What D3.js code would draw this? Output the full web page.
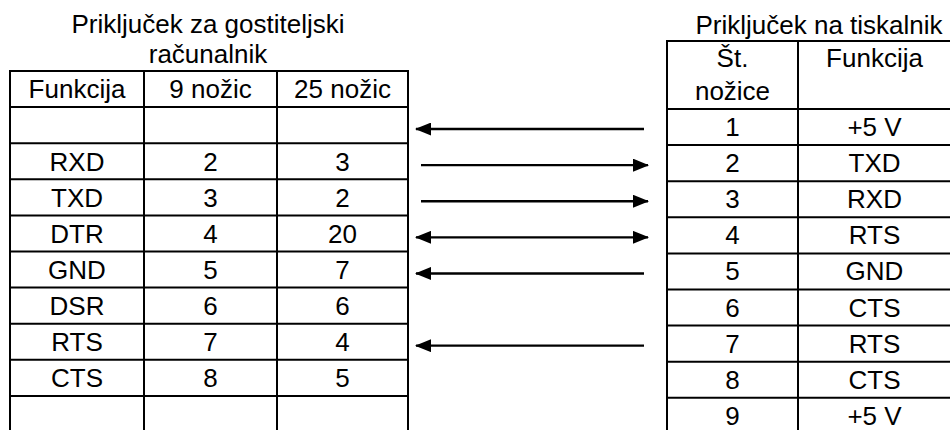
<!DOCTYPE html>
<html>
<head>
<meta charset="utf-8">
<script src="https://cdn.jsdelivr.net/npm/d3@7"></script>
<style>
  html, body { margin: 0; padding: 0; background: #fff; }
  svg { display: block; }
  text { font-family: "Liberation Sans", Arial, sans-serif; fill: #000; }
</style>
</head>
<body>
<svg id="chart" width="950" height="430"></svg>
<script>
// ---- data ----
const hostTitle = ["Priključek za gostiteljski", "računalnik"];
const hostHeaders = ["Funkcija", "9 nožic", "25 nožic"];
const hostFunctions = ["", "RXD", "TXD", "DTR", "GND", "DSR", "RTS", "CTS", ""];
const hostPins9 = ["", "2", "3", "4", "5", "6", "7", "8", ""];
const hostPins25 = ["", "3", "2", "20", "7", "6", "4", "5", ""];

const printerTitle = "Priključek na tiskalnik";
const printerHeaders = [["Št.", "nožice"], ["Funkcija"]];
const printerPins = ["1", "2", "3", "4", "5", "6", "7", "8", "9"];
const printerFunctions = ["+5 V", "TXD", "RXD", "RTS", "GND", "CTS", "RTS", "CTS", "+5 V"];

// direction of the connection arrow for each printer row
const arrowDirections = ["left", "right", "right", "both", "left", "none", "left", "none", "none"];

// ---- layout ----
const svg = d3.select("#chart");
const FS = 26;
const rowsIdx = d3.range(hostFunctions.length);

// left table
const leftCols = [10, 144, 277, 408];
const leftTop = 71, leftHeaderBottom = 107.1, rowH = 36.1;
const yLeft = d3.scaleBand().domain(rowsIdx).range([leftHeaderBottom, leftHeaderBottom + rowH * rowsIdx.length]);

// right table
const rightCols = [667, 798, 951];
const rightTop = 41, rightHeaderBottom = 109, rowHR = 36.1;
const yRight = d3.scaleBand().domain(rowsIdx).range([rightHeaderBottom, rightHeaderBottom + rowHR * rowsIdx.length]);

const g = svg.append("g");

function drawGrid(cols, top, hb, yScale) {
  const bottom = yScale.range()[1];
  const hLines = [top, hb].concat(rowsIdx.map(i => yScale(i) + yScale.bandwidth()));
  g.selectAll(null).data(hLines).enter().append("line")
    .attr("x1", cols[0] - 1).attr("x2", cols[cols.length - 1] + 1)
    .attr("y1", d => d).attr("y2", d => d)
    .attr("stroke", "#000").attr("stroke-width", 2);
  g.selectAll(null).data(cols).enter().append("line")
    .attr("x1", d => d).attr("x2", d => d)
    .attr("y1", top).attr("y2", bottom)
    .attr("stroke", "#000").attr("stroke-width", 2);
}

drawGrid(leftCols, leftTop, leftHeaderBottom, yLeft);
drawGrid(rightCols, rightTop, rightHeaderBottom, yRight);

function colCenter(cols, i) { return (cols[i] + cols[i + 1]) / 2; }

// titles
g.selectAll(null).data(hostTitle).enter().append("text")
  .attr("x", 208).attr("y", (d, i) => 33 + i * 30)
  .attr("text-anchor", "middle").attr("font-size", FS).text(d => d);
g.append("text").attr("x", 819).attr("y", 34)
  .attr("text-anchor", "middle").attr("font-size", FS).text(printerTitle);

// left headers
g.selectAll(null).data(hostHeaders).enter().append("text")
  .attr("x", (d, i) => colCenter(leftCols, i))
  .attr("y", (leftTop + leftHeaderBottom) / 2 + 9.3)
  .attr("text-anchor", "middle").attr("font-size", FS).text(d => d);

// right headers (multi-line)
printerHeaders.forEach((lines, ci) => {
  g.selectAll(null).data(lines).enter().append("text")
    .attr("x", colCenter(rightCols, ci))
    .attr("y", (d, i) => 67 + i * 33)
    .attr("text-anchor", "middle").attr("font-size", FS).text(d => d);
});

// left body
[hostFunctions, hostPins9, hostPins25].forEach((col, ci) => {
  g.selectAll(null).data(col).enter().append("text")
    .attr("x", colCenter(leftCols, ci))
    .attr("y", (d, i) => yLeft(i) + yLeft.bandwidth() / 2 + 9.3)
    .attr("text-anchor", "middle").attr("font-size", FS).text(d => d);
});

// right body
[printerPins, printerFunctions].forEach((col, ci) => {
  g.selectAll(null).data(col).enter().append("text")
    .attr("x", colCenter(rightCols, ci))
    .attr("y", (d, i) => yRight(i) + yRight.bandwidth() / 2 + 9.0)
    .attr("text-anchor", "middle").attr("font-size", FS).text(d => d);
});

// arrows
const defs = svg.append("defs");
defs.append("marker").attr("id", "ah")
  .attr("viewBox", "0 0 16 13").attr("refX", 15).attr("refY", 6.5)
  .attr("markerWidth", 16).attr("markerHeight", 13)
  .attr("markerUnits", "userSpaceOnUse").attr("orient", "auto-start-reverse")
  .append("path").attr("d", "M0,0 L16,6.5 L0,13 Z").attr("fill", "#000");

const xLeftTip = 416, xRightTip = 648, xLeftEnd = 644, xRightStart = 421;
const arrowData = arrowDirections.map((d, i) => ({ d, i })).filter(a => a.d !== "none");
g.selectAll(null).data(arrowData).enter().append("line")
  .attr("x1", a => a.d === "right" ? xRightStart : xLeftTip)
  .attr("x2", a => a.d === "left" ? xLeftEnd : xRightTip)
  .attr("y1", a => yRight(a.i) + yRight.bandwidth() / 2 + 2)
  .attr("y2", a => yRight(a.i) + yRight.bandwidth() / 2 + 2)
  .attr("stroke", "#000").attr("stroke-width", 2.4)
  .attr("marker-start", a => (a.d === "left" || a.d === "both") ? "url(#ah)" : null)
  .attr("marker-end", a => (a.d === "right" || a.d === "both") ? "url(#ah)" : null);
</script>
</body>
</html>
